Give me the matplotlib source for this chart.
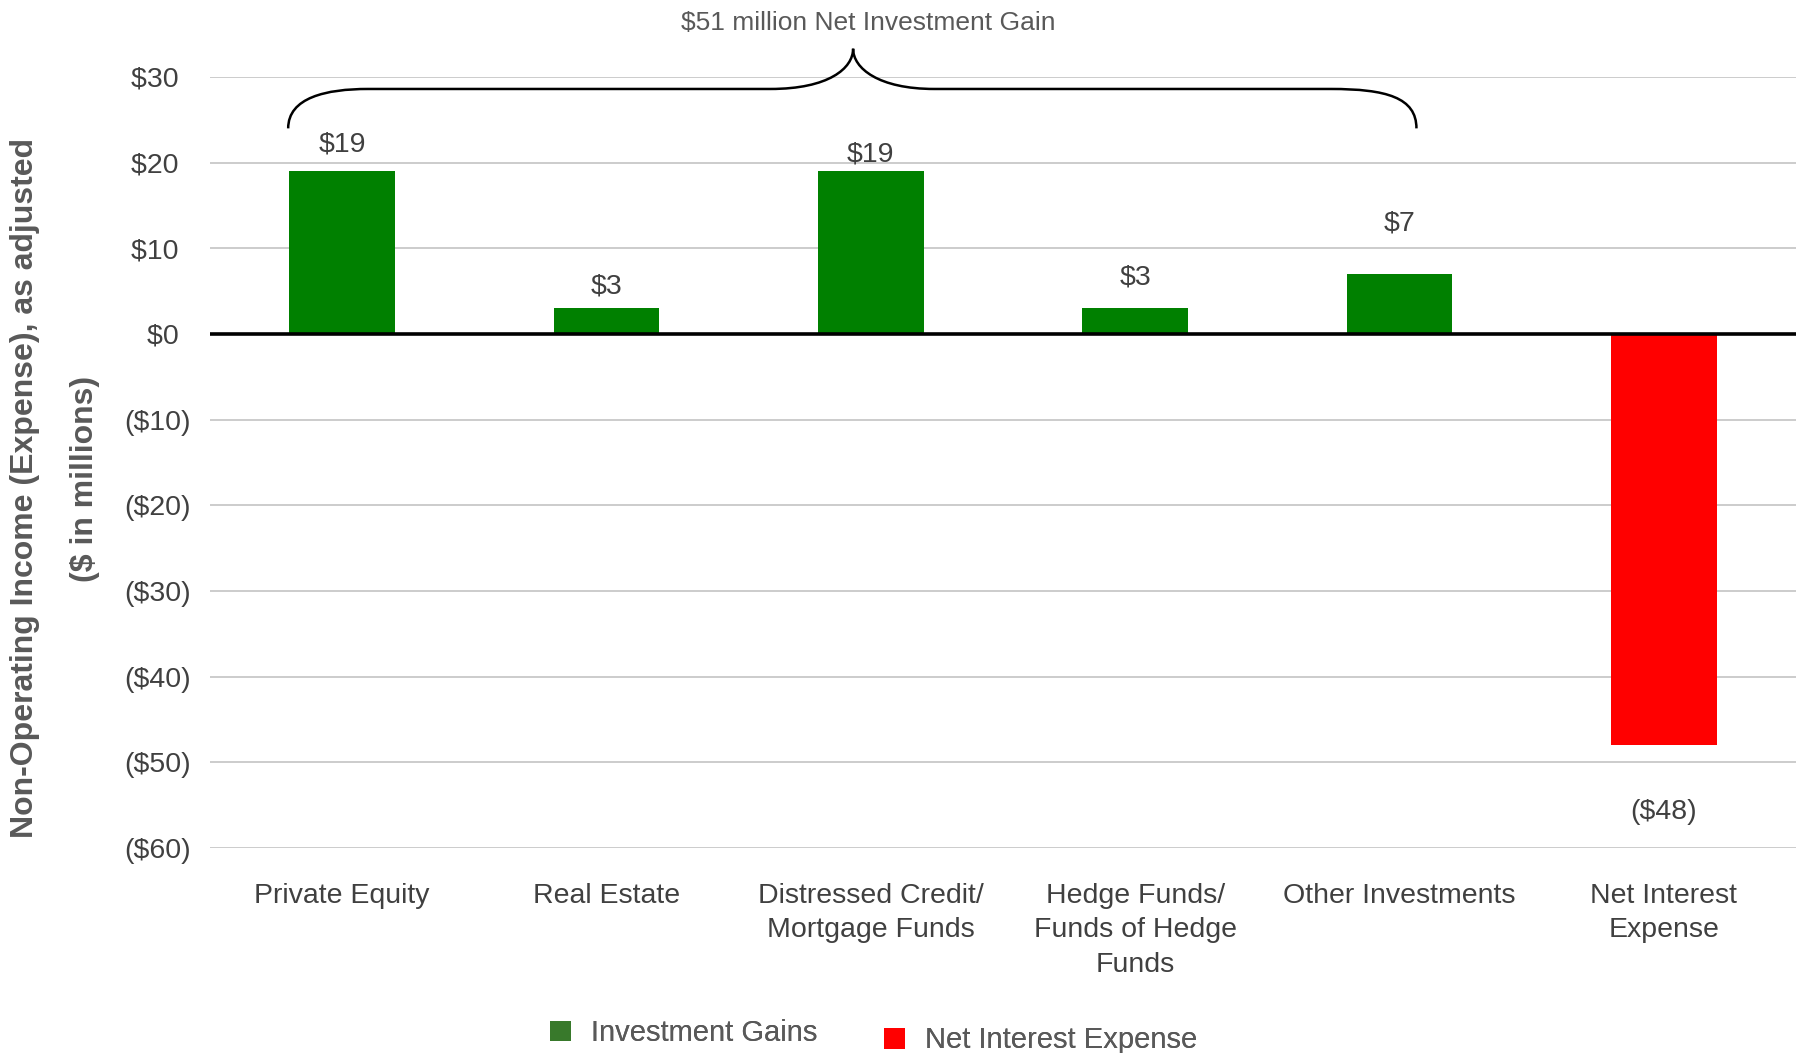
import matplotlib
matplotlib.use("Agg")
import matplotlib.pyplot as plt
from matplotlib.patches import Patch, PathPatch
from matplotlib.path import Path

plt.rcParams['font.family'] = ['Liberation Sans', 'DejaVu Sans']

# ---- data ----
categories = ["Private Equity", "Real Estate", "Distressed Credit/\nMortgage Funds",
              "Hedge Funds/\nFunds of Hedge\nFunds", "Other Investments",
              "Net Interest\nExpense"]
values = [19, 3, 19, 3, 7, -48]
value_labels = ["$19", "$3", "$19", "$3", "$7", "($48)"]
series = ["Investment Gains", "Investment Gains", "Investment Gains",
          "Investment Gains", "Investment Gains", "Net Interest Expense"]
yticks = [30, 20, 10, 0, -10, -20, -30, -40, -50, -60]
ytick_labels = ["$30", "$20", "$10", "$0", "($10)", "($20)", "($30)", "($40)", "($50)", "($60)"]
legend_labels = ["Investment Gains", "Net Interest Expense"]
bracket_label = "$51 million Net Investment Gain"

# ---- layout / style ----
label_offsets = [3.1, 2.6, 1.9, 3.6, 5.9, -7.8]
bar_colors = {"Investment Gains": "#008000", "Net Interest Expense": "#ff0000"}
legend_colors = ["#38792b", "#ff0000"]
text_color = "#404040"
grey = "#595959"

fig = plt.figure(figsize=(18.02, 10.53), dpi=100)
ax = fig.add_axes([0.1165, 0.1947, 0.8802, 0.7322])

x = list(range(len(categories)))
ax.bar(x, values, width=0.4, color=[bar_colors[s] for s in series], zorder=3)

ax.set_xlim(-0.5, len(categories) - 0.5)
ax.set_ylim(-60, 30)
ax.set_yticks(yticks)
# positive labels get a trailing pad so they align like accounting format
ax.set_yticklabels([t if t.startswith("(") else t + "\u2009\u2009" for t in ytick_labels])
ax.set_xticks(x)
ax.set_xticklabels(categories, linespacing=1.42)
ax.tick_params(axis='y', length=0, pad=14, labelsize=20.5, labelcolor=text_color)
ax.tick_params(axis='x', length=0, pad=25, labelsize=20.5, labelcolor=text_color)
for sp in ax.spines.values():
    sp.set_visible(False)
ax.grid(axis='y', color='#c8c8c8', linewidth=1.3, zorder=0)
ax.set_axisbelow(True)
ax.axhline(0, color='black', linewidth=2.6, zorder=4)

for xi, v, lab, off in zip(x, values, value_labels, label_offsets):
    ax.text(xi, v + off, lab, ha='center', va='center', fontsize=20.5, color=text_color)

# brace
yb, yh, yt = 24.0, 28.6, 33.3
xl, xr, xt = -0.204, 4.064, 1.933
verts = [(xl, yb), (xl, 27.6), (-0.06, yh), (0.098, yh),
         (1.62, yh),
         (1.84, yh), (xt, 31.0), (xt, yt),
         (xt, 31.0), (2.03, yh), (2.24, yh),
         (3.74, yh),
         (3.95, yh), (xr, 27.6), (xr, yb)]
codes = [Path.MOVETO, Path.CURVE4, Path.CURVE4, Path.CURVE4,
         Path.LINETO,
         Path.CURVE4, Path.CURVE4, Path.CURVE4,
         Path.CURVE4, Path.CURVE4, Path.CURVE4,
         Path.LINETO,
         Path.CURVE4, Path.CURVE4, Path.CURVE4]
ax.add_patch(PathPatch(Path(verts, codes), facecolor='none', edgecolor='black',
                       linewidth=1.8, clip_on=False, zorder=5))
ax.text(1.99, 36.3, bracket_label, ha='center', va='center', fontsize=19,
        color=grey, clip_on=False)

# y label (two lines)
fig.text(0.0139, 0.5366, "Non-Operating Income (Expense), as adjusted", rotation=90,
         ha='center', va='center', fontsize=23, fontweight='bold', color=grey)
fig.text(0.0473, 0.5453, "($ in millions)", rotation=90,
         ha='center', va='center', fontsize=23, fontweight='bold', color=grey)

# legends (slightly offset vertically as in the original)
anchors = [(0.305, 0.0188), (0.4905, 0.012)]
for lab, col, anc in zip(legend_labels, legend_colors, anchors):
    lg = fig.legend(handles=[Patch(facecolor=col, edgecolor='none')], labels=[lab],
                    loc='center left', bbox_to_anchor=anc, frameon=False,
                    fontsize=21, handlelength=0.72, handleheight=0.72,
                    handletextpad=0.7, borderpad=0, borderaxespad=0)
    for t in lg.get_texts():
        t.set_color(grey)
    fig.add_artist(lg)

fig.savefig("out.png", dpi=100)
